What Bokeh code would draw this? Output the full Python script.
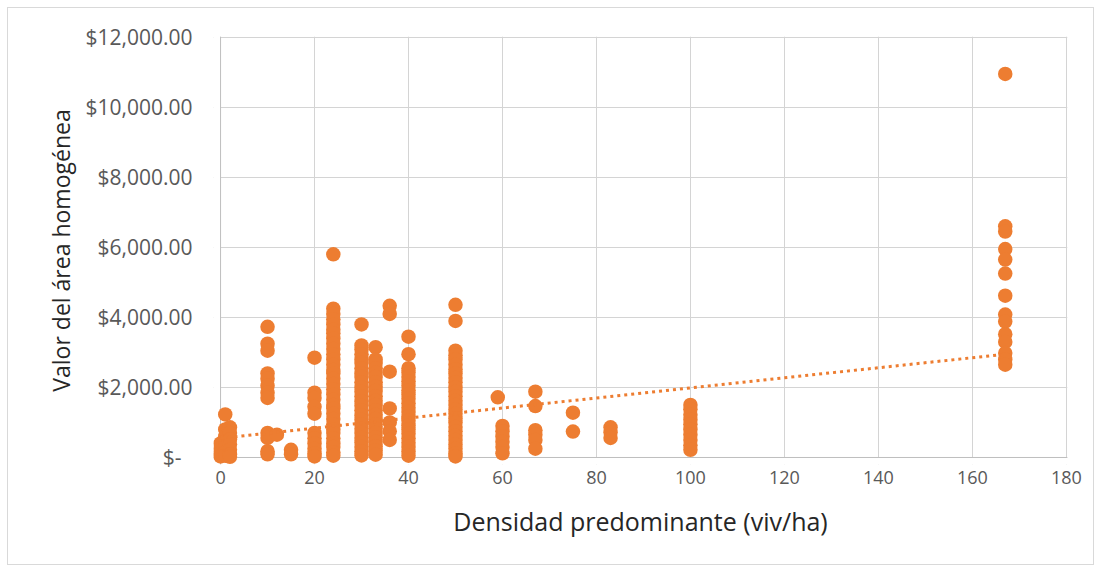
from bokeh.plotting import figure
from bokeh.models import Range1d, FixedTicker, Span, BoxAnnotation, ColumnDataSource
from bokeh.embed import file_html
from bokeh.resources import INLINE

# ---------------- data ----------------
x_ticks = [0, 20, 40, 60, 80, 100, 120, 140, 160, 180]
y_ticks = [0, 2000, 4000, 6000, 8000, 10000, 12000]
y_tick_labels = ["$-\u00a0\u00a0", "$2,000.00", "$4,000.00", "$6,000.00",
                 "$8,000.00", "$10,000.00", "$12,000.00"]

dens_0 = [400, 250, 120, 30]
dens_1 = [1230, 800, 600, 450, 300, 150, 50]
dens_2 = [860, 700, 520, 380, 220, 90, 20]
dens_10 = [3730, 3250, 3050, 2400, 2250, 2050, 1850, 1700, 700, 560, 180, 90]
dens_12 = [650]
dens_15 = [220, 90]
dens_20 = [2850, 1850, 1700, 1450, 1250, 700, 550, 400, 250, 120, 30]
dens_24 = [5800, 4250, 4100, 3950, 3800, 3650, 3550, 3400, 3250, 3100, 2950, 2800,
           2650, 2500, 2400, 2250, 2100, 1950, 1800, 1650, 1500, 1400, 1250, 1100,
           950, 800, 700, 550, 400, 300, 150, 50]
dens_30 = [3800, 3200, 3080, 2950, 2800, 2700, 2550, 2400, 2300, 2150, 2000, 1880,
           1750, 1600, 1480, 1350, 1200, 1080, 950, 820, 700, 560, 430, 300, 180, 60]
dens_33 = [3150, 2800, 2700, 2550, 2420, 2300, 2150, 2020, 1900, 1750, 1620, 1500,
           1350, 1220, 1100, 950, 830, 700, 580, 450, 320, 200, 80]
dens_36 = [4330, 4100, 2450, 1400, 1000, 750, 500]
dens_40 = [3450, 2950, 2550, 2430, 2300, 2180, 2050, 1920, 1800, 1680, 1550, 1420,
           1300, 1170, 1050, 920, 800, 680, 550, 420, 300, 170, 50]
dens_50 = [4360, 3900, 3050, 2920, 2800, 2650, 2520, 2400, 2270, 2150, 2000, 1880,
           1750, 1620, 1500, 1370, 1250, 1120, 1000, 870, 750, 620, 500, 370, 250, 120, 30]
dens_59 = [1720]
dens_60 = [900, 750, 600, 450, 300, 120]
dens_67 = [1880, 1470, 780, 650, 500, 250]
dens_75 = [1280, 740]
dens_83 = [860, 720, 560]
dens_100 = [1500, 1380, 1220, 1080, 950, 800, 650, 500, 350, 220]
dens_167 = [10950, 6600, 6450, 5950, 5650, 5250, 4620, 4080, 3880, 3520, 3300,
            2980, 2800, 2650]

columns = [(0, dens_0), (1, dens_1), (2, dens_2), (10, dens_10), (12, dens_12),
           (15, dens_15), (20, dens_20), (24, dens_24), (30, dens_30), (33, dens_33),
           (36, dens_36), (40, dens_40), (50, dens_50), (59, dens_59), (60, dens_60),
           (67, dens_67), (75, dens_75), (83, dens_83), (100, dens_100), (167, dens_167)]

# linear trendline (start / end)
trend_x = [0, 167]
trend_y = [550, 2950]

# ---------------- build ----------------
xs, ys = [], []
for cx, vals in columns:
    for v in vals:
        xs.append(cx)
        ys.append(v)
src = ColumnDataSource(dict(x=xs, y=ys))

ORANGE = "#ED7D31"
GRID = "#d4d4d4"
FONT = "Open Sans"

p = figure(width=1087, height=558,
           x_range=Range1d(-1.5, 180.25), y_range=Range1d(-200, 12020),
           output_backend="svg", toolbar_location=None,
           min_border_left=205, min_border_right=28,
           min_border_top=28, min_border_bottom=102)
p.outline_line_color = None
p.background_fill_color = "white"
p.border_fill_color = "white"
p.styles = {"border": "1px solid #d9d9d9", "box-sizing": "border-box",
            "margin": "7px 0 0 7px"}

p.xgrid.ticker = FixedTicker(ticks=x_ticks)
p.ygrid.ticker = FixedTicker(ticks=y_ticks)
for g in (p.xgrid, p.ygrid):
    g.grid_line_color = GRID
    g.grid_line_width = 1

# hide grid overshoot below 0 and left of 0
p.add_layout(BoxAnnotation(top=0, fill_color="white", fill_alpha=1,
                           line_alpha=0, level="underlay"))
p.add_layout(BoxAnnotation(right=0, fill_color="white", fill_alpha=1,
                           line_alpha=0, level="underlay"))
p.add_layout(Span(location=0, dimension="width", line_color="#bfbfbf",
                  line_width=1, level="underlay"))
p.add_layout(Span(location=0, dimension="height", line_color="#bfbfbf",
                  line_width=1, level="underlay"))

p.scatter("x", "y", source=src, size=14.5, fill_color=ORANGE,
          line_color=ORANGE, line_width=0)
p.line(trend_x, trend_y, line_color=ORANGE, line_width=3, line_dash="3 4")

# axes
p.xaxis.ticker = FixedTicker(ticks=x_ticks)
p.yaxis.ticker = FixedTicker(ticks=y_ticks)
p.yaxis.major_label_overrides = {t: l for t, l in zip(y_ticks, y_tick_labels)}
for ax in (p.xaxis, p.yaxis):
    ax.axis_line_color = None
    ax.major_tick_line_color = None
    ax.minor_tick_line_color = None
    ax.major_label_text_font = FONT
    ax.major_label_text_color = "#595959"
    ax.axis_label_text_font = FONT
    ax.axis_label_text_font_style = "normal"
    ax.axis_label_text_color = "#262626"

p.xaxis.major_label_text_font_size = "18px"
p.yaxis.major_label_text_font_size = "21px"
p.xaxis.axis_label_text_font_size = "25px"
p.yaxis.axis_label_text_font_size = "23px"

p.xaxis.major_label_standoff = 0
p.yaxis.major_label_standoff = 15
p.xaxis.axis_label = "Densidad predominante (viv/ha)"
p.yaxis.axis_label = "Valor del área homogénea"
p.xaxis.axis_label_standoff = 17
p.yaxis.axis_label_standoff = 5

open("out.html", "w").write(file_html(p, INLINE))
